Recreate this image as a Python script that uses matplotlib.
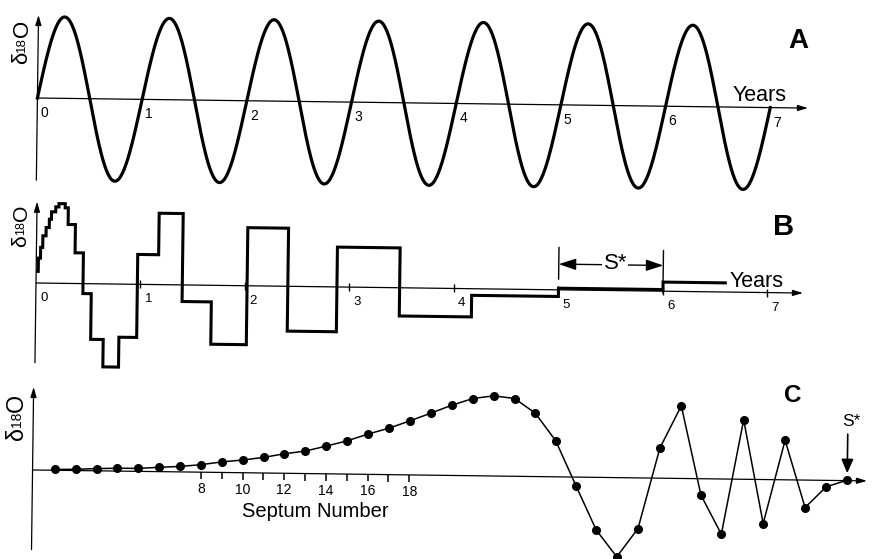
import numpy as np
import matplotlib
matplotlib.use('Agg')
import matplotlib.pyplot as plt
from matplotlib.transforms import Affine2D

plt.rcParams['font.family'] = ['Liberation Sans', 'DejaVu Sans']

W, H = 872, 559

# ---------------- data ----------------
# A: extreme d18O value of each half year of the seasonal cycle (0..7 years)
a_half_extremes = [0.98, -0.99, 0.98, -0.99, 0.98, -0.99, 0.98, -0.99,
                   0.98, -0.99, 0.98, -0.99, 0.98, -0.99]
a_year_labels = [0, 1, 2, 3, 4, 5, 6, 7]

# B: septal record, step edges (years) and d18O level of each step
b_edges = [0, 0.02, 0.04, 0.06, 0.09, 0.12, 0.14, 0.18, 0.21, 0.27, 0.30,
           0.37, 0.45, 0.53, 0.65, 0.80, 0.97, 1.17, 1.40, 1.68, 2.02, 2.41,
           2.88, 3.48, 4.17, 5.00, 6.00, 6.61]
b_levels = [0.14, 0.30, 0.43, 0.57, 0.67, 0.77, 0.86, 0.92, 0.96, 0.91,
            0.71, 0.37, -0.12, -0.67, -1.00, -0.64, 0.36, 0.86, -0.20,
            -0.71, 0.70, -0.54, 0.48, -0.34, -0.08, 0.02, 0.11]
b_year_labels = [0, 1, 2, 3, 4, 5, 6, 7]
b_tick_years = [1, 2, 3, 4, 5, 6, 7]

# C: d18O of each septum
c_septum = list(range(1, 40))
c_d18o = [0.01, 0.015, 0.027, 0.034, 0.036, 0.052, 0.066, 0.09, 0.127,
          0.153, 0.188, 0.235, 0.271, 0.334, 0.401, 0.486, 0.56, 0.652,
          0.748, 0.847, 0.93, 0.966, 0.937, 0.764, 0.434, -0.105, -0.635,
          -0.954, -0.61, 0.363, 0.875, -0.198, -0.665, 0.716, -0.53, 0.477,
          -0.331, -0.078, 0.006]
c_ticks = list(range(8, 19))
c_tick_labels = [8, 10, 12, 14, 16, 18]

# ---------------- layout ----------------
PX = 83.0  # pixels per d18O unit

fig = plt.figure(figsize=(W / 100, H / 100), dpi=100)
renderer = fig.canvas.get_renderer()
# the original scan is turned slightly clockwise
tilt = Affine2D().rotate_deg_around(36, H - 283, -0.75)


def make_axes(top, bottom, x0, y0, xscale):
    ax = fig.add_axes([0, 1 - bottom / H, 1, (bottom - top) / H])
    ax.set_xlim(-x0 / xscale, (W - x0) / xscale)
    ax.set_ylim((y0 - bottom) / PX, (y0 - top) / PX)
    ax.axis('off')
    return ax


def tr(ax):
    return ax.transData + tilt


def axis_arrow(ax, start, end):
    ax.annotate('', xy=end, xytext=start, xycoords=tr(ax), textcoords=tr(ax),
                arrowprops=dict(arrowstyle='-|>,head_length=0.6,head_width=0.18',
                                lw=0.9, color='k', shrinkA=0, shrinkB=0,
                                mutation_scale=10),
                annotation_clip=False)


def d18o_label(xc, y_bottom, k=1.0):
    # vertical "δ18O" label, pieces stacked using their measured size
    y = y_bottom
    for txt, size in [('δ', 16 * k), ('18', 9.5 * k), ('O', 16 * k)]:
        t = fig.text(xc / W, 1 - y / H, txt, rotation=90, ha='center',
                     va='bottom', fontsize=size)
        y -= t.get_window_extent(renderer).height


def fig_text(px, py, s, **kw):
    fig.text(px / W, 1 - py / H, s, **kw)


# ---------------- panel A ----------------
ax_a = make_axes(0, 190, 35, 98, 104.7)
t_list, y_list = [], []
for k, peak in enumerate(a_half_extremes):
    t = np.linspace(k * 0.5, (k + 1) * 0.5, 60)
    t_list.append(t)
    y_list.append(abs(peak) * np.sin(2 * np.pi * t))
ax_a.plot(np.concatenate(t_list), np.concatenate(y_list), color='k', lw=2.3,
          transform=tr(ax_a), clip_on=False)
axis_arrow(ax_a, (0, 0), (7.36, 0))
axis_arrow(ax_a, (0, -0.99), (0, 1.0))
for yr in a_year_labels:
    ax_a.annotate(str(yr), xy=(yr, 0), xycoords=tr(ax_a), xytext=(3, -8),
                  textcoords='offset pixels', ha='left', va='top', fontsize=10)
ax_a.annotate('Years', xy=(6.64, 0), xycoords=tr(ax_a), xytext=(0, 6),
              textcoords='offset pixels', ha='left', va='baseline', fontsize=15.5)
d18o_label(22, 64)
fig_text(788, 48, 'A', fontsize=20, fontweight='bold', ha='left', va='baseline')

# ---------------- panel B ----------------
ax_b = make_axes(190, 375, 36, 283, 104.5)
ax_b.stairs(b_levels, b_edges, baseline=None, color='k', lw=2.2,
            transform=tr(ax_b), clip_on=False)
axis_arrow(ax_b, (0, 0), (7.34, 0))
axis_arrow(ax_b, (0, -0.96), (0, 0.98))
ax_b.plot(b_tick_years, [0] * len(b_tick_years), ls='none', marker='|', ms=6,
          mew=1, color='k', transform=tr(ax_b), clip_on=False)
for yr in b_year_labels:
    ax_b.annotate(str(yr), xy=(yr, 0), xycoords=tr(ax_b), xytext=(4, -9),
                  textcoords='offset pixels', ha='left', va='top', fontsize=9.5)
ax_b.annotate('Years', xy=(6.64, 0), xycoords=tr(ax_b), xytext=(0, 5),
              textcoords='offset pixels', ha='left', va='baseline', fontsize=15.5)
# S* bracket
ax_b.plot([5, 5], [0.13, 0.51], color='k', lw=1, transform=tr(ax_b), clip_on=False)
ax_b.plot([6, 6], [-0.02, 0.49], color='k', lw=1, transform=tr(ax_b), clip_on=False)
ax_b.annotate('', xy=(5, 0.31), xytext=(6, 0.31), xycoords=tr(ax_b),
              textcoords=tr(ax_b),
              arrowprops=dict(arrowstyle='<|-|>,head_length=0.75,head_width=0.25',
                              lw=1, color='k', shrinkA=0, shrinkB=0,
                              mutation_scale=14),
              annotation_clip=False)
ax_b.text(5.54, 0.33, 'S*', transform=tr(ax_b), ha='center', va='center',
          fontsize=16, bbox=dict(fc='white', ec='none', pad=1), zorder=5)
d18o_label(21, 247, 0.95)
fig_text(773, 235, 'B', fontsize=21, fontweight='bold', ha='left', va='baseline')

# ---------------- panel C ----------------
ax_c = make_axes(375, 559, 36.5, 470, 20.85)
y_axis_x = (35 - 36.5) / 20.85
ax_c.plot(c_septum, c_d18o, '-o', color='k', lw=1.1, ms=5.5,
          transform=tr(ax_c), clip_on=False)
axis_arrow(ax_c, (y_axis_x, 0), (39.95, 0))
axis_arrow(ax_c, (y_axis_x, -0.96), (y_axis_x, 1.0))
ax_c.plot(c_ticks, [0] * len(c_ticks), ls='none', marker=3, ms=5, mew=1.1,
          color='k', transform=tr(ax_c), clip_on=False)
for s in c_tick_labels:
    ax_c.annotate(str(s), xy=(s, 0), xycoords=tr(ax_c), xytext=(0, -10),
                  textcoords='offset pixels', ha='center', va='top', fontsize=10)
ax_c.annotate('', xy=(39, c_d18o[-1]), xytext=(39, 0.56), xycoords=tr(ax_c),
              textcoords=tr(ax_c),
              arrowprops=dict(arrowstyle='-|>,head_length=0.6,head_width=0.26',
                              lw=1.2, color='k', shrinkA=0, shrinkB=5,
                              mutation_scale=14),
              annotation_clip=False)
fig_text(851, 421, 'S*', fontsize=12.5, ha='center', va='center')
fig_text(315, 517, 'Septum Number', fontsize=14.5, ha='center', va='baseline')
d18o_label(16.5, 440, 1.05)
fig_text(784, 402, 'C', fontsize=17.5, fontweight='bold', ha='left', va='baseline')

fig.savefig('out.png', dpi=100)
